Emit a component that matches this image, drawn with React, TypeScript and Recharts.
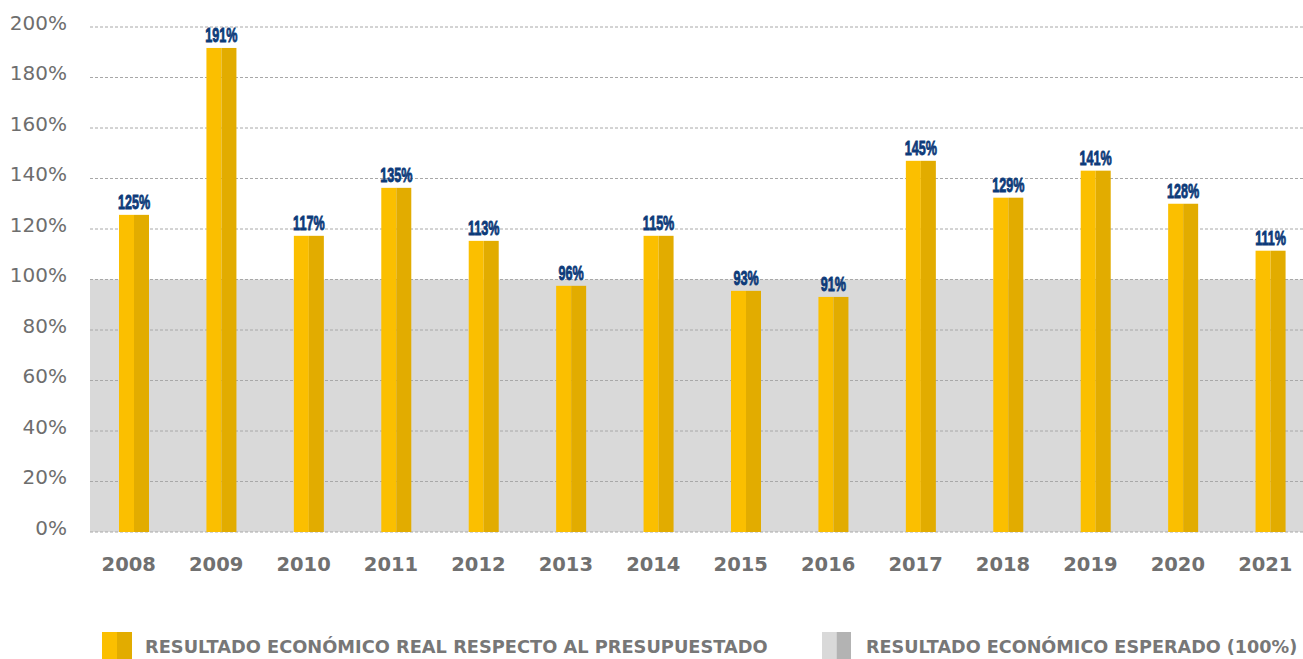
import React from 'react';
import { BarChart, Bar, XAxis, YAxis, CartesianGrid, ReferenceArea, LabelList, Legend } from 'recharts';

const years = ['2008', '2009', '2010', '2011', '2012', '2013', '2014', '2015', '2016', '2017', '2018', '2019', '2020', '2021'];
// bar heights as drawn in the picture (%)
const barValues = [125.6, 191.7, 117.3, 136.3, 115.3, 97.5, 117.3, 95.5, 93.1, 147.0, 132.4, 143.1, 130.0, 111.4];
// value labels as printed above the bars (%)
const labelValues = [125, 191, 117, 135, 113, 96, 115, 93, 91, 145, 129, 141, 128, 111];
const yTicks = [0, 20, 40, 60, 80, 100, 120, 140, 160, 180, 200];
const expectedLevel = 100;
const legendLabels = ['RESULTADO ECONÓMICO REAL RESPECTO AL PRESUPUESTADO', 'RESULTADO ECONÓMICO ESPERADO (100%)'];

const data = years.map((year, i) => ({ year, value: barValues[i], label: labelValues[i] }));

const YELLOW_L = '#FBBF00';
const YELLOW_R = '#E2AC00';
const GREY_L = '#D9D9D9';
const GREY_R = '#B3B3B3';

const TwoToneBar = (props: any) => {
  const x = Number(props.x), y = Number(props.y), w = Number(props.width), h = Number(props.height);
  if (!(h > 0)) return null;
  const half = w / 2;
  return (
    <g>
      <rect x={x} y={y} width={half} height={h} fill={YELLOW_L} />
      <rect x={x + half} y={y} width={w - half} height={h} fill={YELLOW_R} />
    </g>
  );
};

const ValueLabel = (props: any) => {
  const x = Number(props.x), y = Number(props.y), w = Number(props.width);
  const cx = x + w / 2;
  return (
    <text
      transform={`translate(${cx},${y - 6}) scale(0.6,1)`}
      textAnchor="middle"
      fontFamily="'Liberation Sans',sans-serif"
      fontWeight="bold"
      fontSize={21}
      fill="#0D3B7A"
      stroke="#0D3B7A"
      strokeWidth={0.9}
    >
      {props.value}%
    </text>
  );
};

const YTick = (props: any) => {
  const { x, y, payload } = props;
  return (
    <text x={x} y={Number(y) + 2.5} textAnchor="end" fontFamily="'DejaVu Sans',sans-serif" fontSize={20} fill="#6E6E6E">
      {payload.value}%
    </text>
  );
};

const XTick = (props: any) => {
  const { x, y, payload } = props;
  return (
    <text x={Number(x) - 5} y={Number(y) + 39} textAnchor="middle" fontFamily="'DejaVu Sans',sans-serif" fontWeight="bold" fontSize={19.5} fill="#707070">
      {payload.value}
    </text>
  );
};

const LegendBlock = () => (
  <svg width={1303} height={40} style={{ display: 'block' }}>
    <rect x={102} y={13} width={15} height={27} fill={YELLOW_L} />
    <rect x={117} y={13} width={15} height={27} fill={YELLOW_R} />
    <text x={145} y={34} fontFamily="'DejaVu Sans',sans-serif" fontWeight="bold" fontSize={17.8} fill="#777777">
      {legendLabels[0]}
    </text>
    <rect x={822} y={13} width={14.5} height={27} fill={GREY_L} />
    <rect x={836.5} y={13} width={14.5} height={27} fill={GREY_R} />
    <text x={866} y={34} fontFamily="'DejaVu Sans',sans-serif" fontWeight="bold" fontSize={17.6} fill="#777777">
      {legendLabels[1]}
    </text>
  </svg>
);

export default function App() {
  return (
    <div style={{ position: 'absolute', left: 0, top: 0, width: 1303, height: 659, background: '#fff' }}>
      <BarChart width={1303} height={659} data={data} margin={{ top: 27, right: 0, left: 0, bottom: 0 }} barSize={30}>
        <ReferenceArea y1={0} y2={expectedLevel} fill={GREY_L} fillOpacity={1} stroke="none" zIndex={-200} />
        <CartesianGrid vertical={false} stroke="#A8A8A8" strokeDasharray="3 2" zIndex={-100} />
        <XAxis
          dataKey="year"
          axisLine={false}
          tickLine={false}
          tickSize={0}
          tickMargin={0}
          height={87}
          interval={0}
          padding={{ left: 0, right: -11 }}
          tick={<XTick />}
        />
        <YAxis
          type="number"
          domain={[0, 200]}
          ticks={yTicks}
          interval={0}
          width={90}
          axisLine={false}
          tickLine={false}
          tickSize={0}
          tickMargin={23}
          tick={<YTick />}
        />
        <Legend verticalAlign="bottom" align="left" height={40} wrapperStyle={{ left: 0, width: 1303 }} content={() => <LegendBlock />} />
        <Bar dataKey="value" shape={<TwoToneBar />} isAnimationActive={false}>
          <LabelList dataKey="label" position="top" content={<ValueLabel />} />
        </Bar>
      </BarChart>
    </div>
  );
}
